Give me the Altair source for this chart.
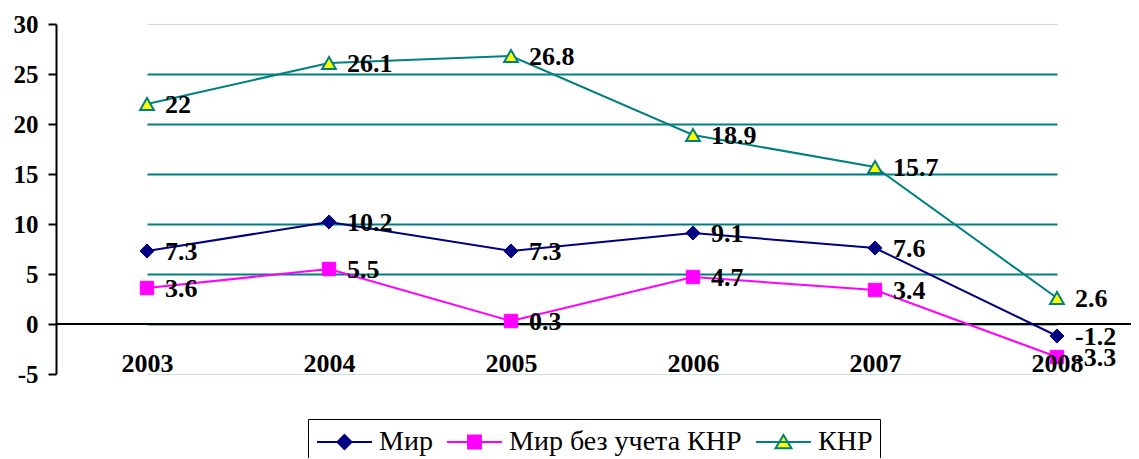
import altair as alt
import pandas as pd

years = ["2003", "2004", "2005", "2006", "2007", "2008"]
series_names = ["Мир", "Мир без учета КНР", "КНР"]
world = [7.3, 10.2, 7.3, 9.1, 7.6, -1.2]
world_ex_china = [3.6, 5.5, 0.3, 4.7, 3.4, -3.3]
china = [22, 26.1, 26.8, 18.9, 15.7, 2.6]
y_ticks = [-5, 0, 5, 10, 15, 20, 25, 30]

rows = []
for name, vals in zip(series_names, [world, world_ex_china, china]):
    for yr, v in zip(years, vals):
        rows.append({"year": yr, "series": name, "value": v, "label": f"{v:g}"})
df = pd.DataFrame(rows)

NAVY = "#000080"
MAGENTA = "#FF00FF"
TEAL = "#008080"
YELLOW = "#FFFF00"
FONT = "Liberation Serif"

x_enc = alt.X("year:O", scale=alt.Scale(type="point", range=[91, 1001], padding=0),
              axis=alt.Axis(title=None, orient="bottom", domain=False, ticks=False, tickSize=0,
                            labelAngle=0, labelBaseline="alphabetic", labelPadding=-3,
                            labelFont=FONT, labelFontSize=26, labelFontWeight="bold",
                            labelColor="black", zindex=1, grid=False))
y_scale = alt.Scale(domain=[-5, 30], nice=False, zero=False)
y_enc = alt.Y("value:Q", scale=y_scale,
              axis=alt.Axis(title=None, values=y_ticks, labelExpr="'' + datum.value",
                            domainColor="black", domainWidth=2, tickColor="black", tickWidth=2,
                            tickSize=8, labelPadding=10, labelFont=FONT, labelFontSize=25,
                            labelFontWeight="bold", labelColor="black",
                            grid=True,
                            gridColor=alt.condition("datum.value >= 30 || datum.value <= -5",
                                                    alt.value("#c6e3e3"), alt.value(TEAL)),
                            gridWidth=alt.condition("datum.value >= 30 || datum.value <= -5",
                                                    alt.value(1), alt.value(2))))

stroke_scale = alt.Scale(domain=series_names, range=[NAVY, MAGENTA, TEAL])
fill_scale = alt.Scale(domain=series_names, range=[NAVY, MAGENTA, YELLOW])
legend_paths = [
    "M-1.83,0L1.83,0M0,-0.47L0.47,0L0,0.47L-0.47,0Z",
    "M-1.83,0L1.83,0M-0.43,-0.43L0.43,-0.43L0.43,0.43L-0.43,0.43Z",
    "M-1.83,0L1.83,0M0,-0.47L0.53,0.42L-0.53,0.42Z",
]
shape_scale = alt.Scale(domain=series_names, range=legend_paths)

base = alt.Chart(df)

zero_rule = base.mark_rule(color="black", strokeWidth=2).encode(
    y=alt.Y(datum=0, type="quantitative", scale=y_scale))

styles = [
    (NAVY, "diamond", NAVY, NAVY, 1, 200),
    (MAGENTA, "square", MAGENTA, MAGENTA, 1, 180),
    (TEAL, "triangle-up", YELLOW, TEAL, 2, 190),
]
line_layers = []
point_layers = []
for name, (lc, shp, fc, sc, sw, sz) in zip(series_names, styles):
    sub = base.transform_filter(alt.datum.series == name)
    line_layers.append(sub.mark_line(stroke=lc, strokeWidth=2).encode(x=x_enc, y=y_enc))
    point_layers.append(sub.mark_point(shape=shp, filled=True, fill=fc, stroke=sc,
                                       strokeWidth=sw, size=sz, opacity=1).encode(x=x_enc, y=y_enc))

leg = alt.Legend(title=None, labelFont=FONT, labelFontSize=28, labelColor="black")
legend_layer = base.mark_point(filled=True, opacity=0, size=900, strokeWidth=2).encode(
    x=x_enc, y=y_enc,
    shape=alt.Shape("series:N", scale=shape_scale, legend=leg),
    fill=alt.Fill("series:N", scale=fill_scale, legend=leg),
    stroke=alt.Stroke("series:N", scale=stroke_scale, legend=leg),
)

labels = base.mark_text(align="left", baseline="middle", dx=18, dy=1, font=FONT,
                        fontSize=26, fontWeight="bold", color="black").encode(
    x=x_enc, y=y_enc, text="label:N")

chart = alt.layer(zero_rule, *line_layers, *point_layers, legend_layer, labels).properties(
    width=1075, height=350,
    padding={"left": 48, "top": 16, "right": 0, "bottom": 84},
    autosize="none",
).configure_view(stroke=None).configure_legend(
    orient="none", legendX=252, legendY=395, direction="horizontal",
    strokeColor="black", fillColor="white", padding=7,
    symbolSize=900, symbolStrokeWidth=2, symbolOpacity=1,
    symbolOffset=13.5, labelOffset=18.5, columnPadding=10, labelLimit=500,
    labelFont=FONT, labelFontSize=28, labelColor="black", labelFontWeight="normal",
)

chart.save("out.html", embed_options={"renderer": "svg", "actions": False})
